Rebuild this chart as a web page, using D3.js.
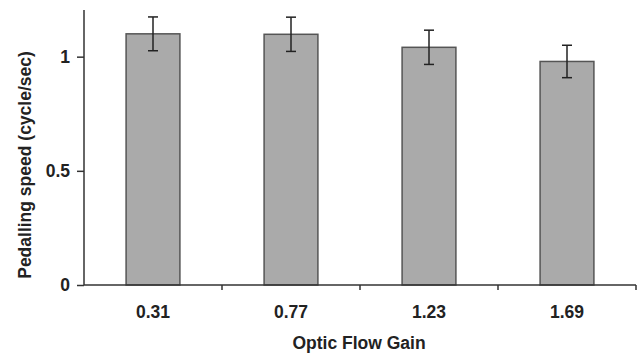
<!DOCTYPE html>
<html>
<head>
<meta charset="utf-8">
<script src="https://cdn.jsdelivr.net/npm/d3@7"></script>
<style>
  body { margin: 0; background: #fff; }
  text { font-family: "Liberation Sans", Arial, sans-serif; font-weight: bold; fill: #222; }
</style>
</head>
<body>
<svg width="638" height="355"></svg>
<script>
// data
var gains = ["0.31", "0.77", "1.23", "1.69"]
var speed = [1.10, 1.098, 1.041, 0.979]
var errs = [0.074, 0.075, 0.075, 0.071]
var yTicks = [0, 0.5, 1]

var svg = d3.select("svg")
var pad = 0.61
var fs = 17.5

var x = d3.scaleBand().domain(gains).range([84, 636])
    .paddingInner(pad).paddingOuter(pad / 2)
var y = d3.scaleLinear().domain([0, 1.2]).range([285, 11])

// bars
svg.append("g").selectAll("rect").data(gains)
    .enter().append("rect")
    .attr("x", d => x(d))
    .attr("y", (d, i) => y(speed[i]))
    .attr("width", x.bandwidth())
    .attr("height", (d, i) => y(0) - y(speed[i]))
    .attr("fill", "#aaaaaa")
    .attr("stroke", "#555")
    .attr("stroke-width", 1.5)

// error bars
var eb = svg.append("g").attr("stroke", "#222").attr("stroke-width", 1.5)
gains.forEach((g, i) => {
    var cx = x(g) + x.bandwidth() / 2
    var hi = y(speed[i] + errs[i]), lo = y(speed[i] - errs[i])
    eb.append("line").attr("x1", cx).attr("x2", cx).attr("y1", hi).attr("y2", lo)
    eb.append("line").attr("x1", cx - 5).attr("x2", cx + 5).attr("y1", hi).attr("y2", hi)
    eb.append("line").attr("x1", cx - 5).attr("x2", cx + 5).attr("y1", lo).attr("y2", lo)
})

// y axis
var yAxis = svg.append("g").attr("transform", "translate(84,0)")
    .call(d3.axisLeft(y).tickValues(yTicks).tickSize(7).tickPadding(7).tickFormat(d3.format("")))
yAxis.select(".domain").attr("d", "M0," + y(0) + "V10").attr("stroke", "#333").attr("stroke-width", 1.5)
yAxis.selectAll(".tick line").attr("stroke", "#333").attr("stroke-width", 1.5)
yAxis.selectAll("text").attr("font-size", fs).attr("font-family", null)

// x axis
var xAxis = svg.append("g").attr("transform", "translate(0," + y(0) + ")")
    .call(d3.axisBottom(x).tickSize(0).tickPadding(20.5))
xAxis.select(".domain").attr("d", "M84,0H636").attr("stroke", "#333").attr("stroke-width", 1.5)
xAxis.selectAll("text").attr("font-size", fs).attr("font-family", null)
// ticks at category boundaries
xAxis.append("g").selectAll("line").data(gains)
    .enter().append("line")
    .attr("x1", d => x(d) + x.bandwidth() + x.step() * pad / 2)
    .attr("x2", d => x(d) + x.bandwidth() + x.step() * pad / 2)
    .attr("y1", 0).attr("y2", 5)
    .attr("stroke", "#333").attr("stroke-width", 1.5)

// axis titles
svg.append("text")
    .attr("x", 359).attr("y", 349)
    .attr("text-anchor", "middle").attr("font-size", fs)
    .text("Optic Flow Gain")
svg.append("text")
    .attr("transform", "translate(31,165) rotate(-90)")
    .attr("text-anchor", "middle").attr("font-size", fs)
    .text("Pedalling speed (cycle/sec)")
</script>
</body>
</html>
